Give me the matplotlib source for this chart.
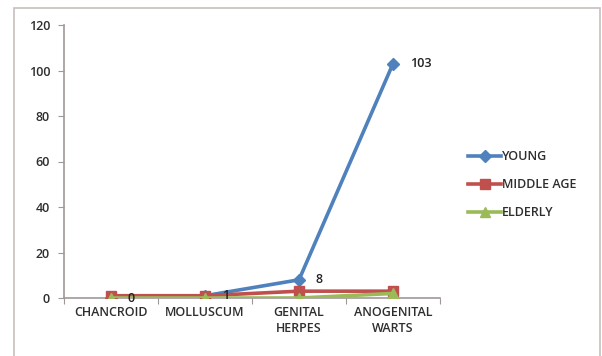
import matplotlib.pyplot as plt
from matplotlib.patches import Rectangle

categories = ['CHANCROID', 'MOLLUSCUM', 'GENITAL\nHERPES', 'ANOGENITAL\nWARTS']
young = [0, 1, 8, 103]
middle_age = [1, 1, 3, 3]
elderly = [0, 0, 0, 2]
yticks = [0, 20, 40, 60, 80, 100, 120]

plt.rcParams['font.family'] = ['Open Sans', 'DejaVu Sans']
plt.rcParams['font.weight'] = 'semibold'
txt = '#2e2e2e'

fig = plt.figure(figsize=(6.02, 3.56), dpi=100)
# outer chart frame
fig.patches.append(Rectangle((14/602, -0.01), 586/602, 1 - 8/356 + 0.01,
                             transform=fig.transFigure, fill=False,
                             edgecolor='#c8bfbd', lw=1.2))

ax = fig.add_axes([64/602, 1 - 298/356, 376/602, 273/356])
x = [i + 0.5 for i in range(len(categories))]

ax.plot(x, young, color='#4F81BD', lw=2.6, marker='D', ms=6, label='YOUNG', zorder=3)
ax.plot(x, middle_age, color='#C0504D', lw=2.6, marker='s', ms=7, label='MIDDLE AGE', zorder=4)
ax.plot(x, elderly, color='#9BBB59', lw=2.6, marker='^', ms=7, label='ELDERLY', zorder=5)

# value labels on the YOUNG series
for xi, v in zip(x, young):
    ax.annotate(str(v), (xi, v), xytext=(12, 0), textcoords='offset points',
                ha='left', va='center', fontsize=9, color='#222222', zorder=10)

ax.set_xlim(0, len(categories))
ax.set_ylim(0, 120)
ax.set_yticks(yticks)
ax.set_xticks(range(len(categories) + 1))
ax.set_xticklabels([])
ax.set_xticks(x, minor=True)
ax.set_xticklabels(categories, minor=True, fontsize=9, color=txt, linespacing=1.3)
ax.tick_params(axis='x', which='minor', length=0, pad=6)
ax.tick_params(axis='x', which='major', length=4, color='#a09896')
ax.tick_params(axis='y', length=4, color='#a09896', labelsize=9, labelcolor=txt, pad=6)

for s in ['top', 'right']:
    ax.spines[s].set_visible(False)
for s in ['left', 'bottom']:
    ax.spines[s].set_color('#a09896')
    ax.spines[s].set_linewidth(1.2)

fig.legend(loc='center left', bbox_to_anchor=(462/602, 1 - 185/356), frameon=False,
           fontsize=9, labelcolor=txt, handlelength=2.6, handletextpad=0.1,
           labelspacing=1.2, borderpad=0)

fig.savefig('out.png', dpi=100)
